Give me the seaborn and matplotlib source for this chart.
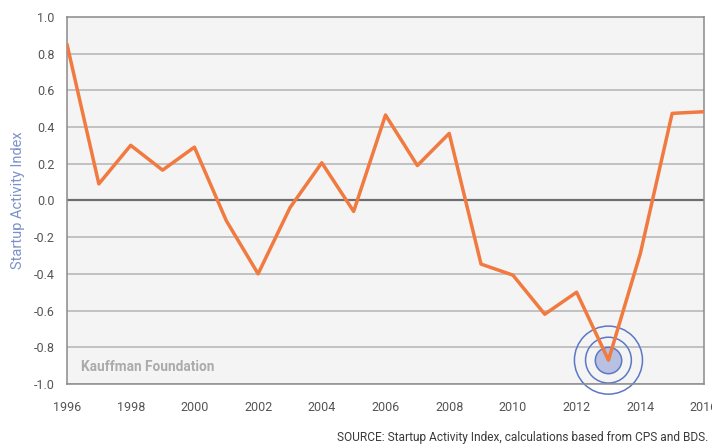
import matplotlib
matplotlib.use("Agg")
import matplotlib.pyplot as plt
import seaborn as sns
import numpy as np
import pandas as pd

years = list(range(1996, 2017))
index_values = [0.85, 0.09, 0.30, 0.165, 0.29, -0.11, -0.40, -0.04, 0.205, -0.06,
                0.465, 0.19, 0.365, -0.347, -0.407, -0.62, -0.50, -0.87, -0.29, 0.474, 0.483]
y_ticks = [-1.0, -0.8, -0.6, -0.4, -0.2, 0.0, 0.2, 0.4, 0.6, 0.8, 1.0]
x_ticks = list(range(1996, 2017, 2))

df = pd.DataFrame({"year": years, "index": index_values})

sns.set_theme(style="white")
plt.rcParams['font.family'] = ['Roboto', 'DejaVu Sans']

fig = plt.figure(figsize=(7.12, 4.46), dpi=100)
ax = fig.add_axes([67/712, 1-384/446, (704-67)/712, (384-16.8)/446])
ax.set_facecolor("#f4f4f4")

# grid lines
for v in y_ticks:
    if v == 0.0:
        ax.axhline(v, color="#6e6e6e", lw=1.6, zorder=1)
    elif v == 1.0:
        pass
    else:
        ax.axhline(v, color="#b4b4b4", lw=1.1, zorder=1)

# target highlight at minimum
imin = int(np.argmin(index_values))
mx, my = years[imin], index_values[imin]
ax.scatter([mx], [my], s=49**2, facecolor="none", edgecolor="#5b78c4", lw=1.1, zorder=2, clip_on=False)
ax.scatter([mx], [my], s=33**2, facecolor="none", edgecolor="#5b78c4", lw=1.1, zorder=2, clip_on=False)
ax.scatter([mx], [my], s=19**2, facecolor="#b9c1e3", edgecolor="#5b78c4", lw=1.1, zorder=2, clip_on=False)

sns.lineplot(data=df, x="year", y="index", ax=ax, color="#f07a3f", lw=2.5, zorder=3)

ax.set_xlim(1996, 2016)
ax.set_ylim(-1.0, 1.0)
ax.set_yticks(y_ticks)
ax.set_yticklabels([f"{v:.1f}" for v in y_ticks])
ax.set_xticks(x_ticks)
ax.set_xticks(list(range(1997, 2016, 2)), minor=True)

for s in ["left", "right", "top", "bottom"]:
    ax.spines[s].set_color("#8a8a8a")
    ax.spines[s].set_linewidth(1.1)

ax.tick_params(axis="both", which="both", direction="out", colors="#555555",
               labelsize=9, length=5, width=1)
ax.tick_params(axis="x", which="both", color="#444444", length=6, pad=6)
ax.tick_params(axis="y", which="major", length=6, pad=3)

ax.set_xlabel("")
ax.set_ylabel("Startup Activity Index", color="#7b91c9", fontsize=10.5, labelpad=6)

ax.text(1996.45, -0.905, "Kauffman Foundation", color="#ababab", fontsize=9.8,
        fontweight="bold", va="center", ha="left", zorder=4)

fig.text(708/712, 1-438/446, "SOURCE: Startup Activity Index, calculations based from CPS and BDS.",
         ha="right", va="center", fontsize=8.6, color="#3a3a3a")

fig.savefig("out.png", dpi=100)
